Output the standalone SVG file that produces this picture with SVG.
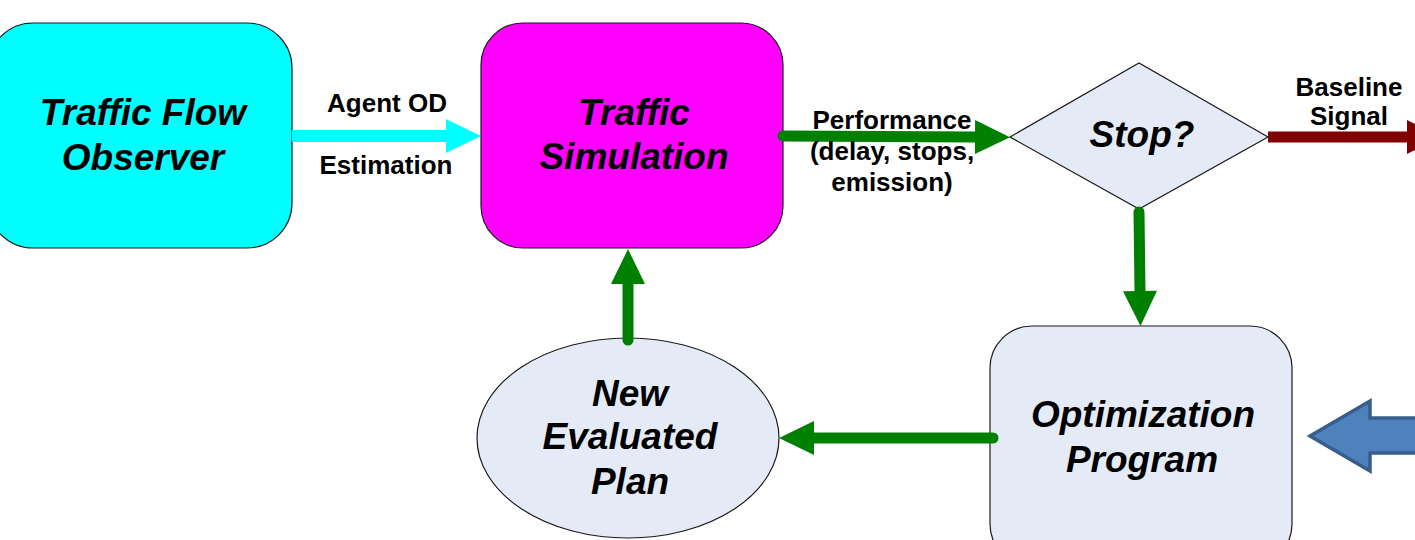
<svg xmlns="http://www.w3.org/2000/svg" width="1415" height="540" viewBox="0 0 1415 540">
<style>
.node{stroke:#1a1a1a;stroke-width:1.2}
.title{font-family:"Liberation Sans",Arial,sans-serif;font-weight:bold;font-style:italic;font-size:37px;fill:#000;text-anchor:middle}
.lbl{font-family:"Liberation Sans",Arial,sans-serif;font-weight:bold;font-size:26px;fill:#000;text-anchor:middle}
.g{stroke:#008000;stroke-width:11;fill:none;stroke-linecap:round}
</style>
<defs>
<marker id="hg" markerUnits="userSpaceOnUse" markerWidth="36" markerHeight="36" refX="0" refY="17" orient="auto" overflow="visible"><path d="M0,0 L35,17 L0,34 z" fill="#008000"/></marker>
<marker id="hc" markerUnits="userSpaceOnUse" markerWidth="36" markerHeight="36" refX="0" refY="17" orient="auto" overflow="visible"><path d="M0,0 L35,17 L0,34 z" fill="#00FFFF"/></marker>
<marker id="hr" markerUnits="userSpaceOnUse" markerWidth="36" markerHeight="36" refX="0" refY="17" orient="auto" overflow="visible"><path d="M0,0 L35,17 L0,34 z" fill="#800000"/></marker>
</defs>
<g id="observer"><rect class="node" x="-12" y="23" width="304" height="225" rx="45" fill="#00FFFF"/><text class="title" x="143" y="125">Traffic Flow</text><text class="title" x="143" y="170">Observer</text></g>
<g id="simulation"><rect class="node" x="481" y="23" width="302" height="225" rx="42" fill="#FF00FF"/><text class="title" x="634" y="125">Traffic</text><text class="title" x="634" y="169">Simulation</text></g>
<g id="stop"><polygon class="node" points="1010,137 1139,63 1268,137 1139,209" fill="#E5EBF6"/><text class="title" x="1142" y="147">Stop?</text></g>
<g id="optimization"><rect class="node" x="990" y="326" width="302" height="240" rx="42" fill="#E5EBF6"/><text class="title" x="1143" y="427">Optimization</text><text class="title" x="1142" y="472">Program</text></g>
<g id="plan"><ellipse class="node" cx="628" cy="438" rx="151" ry="100" fill="#E5EBF6"/><text class="title" x="630" y="406">New</text><text class="title" x="630" y="449">Evaluated</text><text class="title" x="630" y="494">Plan</text></g>
<g id="input"><polygon points="1310,436 1370,401 1370,418 1422,418 1422,453 1370,453 1370,471" fill="#4F81BD" stroke="#385D8A" stroke-width="3.5" stroke-linejoin="miter"/></g>
<g id="connectors">
<path d="M292,136 L446,136" stroke="#00FFFF" stroke-width="12" fill="none" marker-end="url(#hc)"/>
<path class="g" d="M783,136 L975,137" marker-end="url(#hg)"/>
<path class="g" d="M1139,212 L1140,291" marker-end="url(#hg)"/>
<path class="g" d="M993,438 L814,438" marker-end="url(#hg)"/>
<path class="g" d="M628,340 L628,284" marker-end="url(#hg)"/>
<path d="M1268,137 L1407,137" stroke="#800000" stroke-width="11" fill="none" marker-end="url(#hr)"/>
</g>
<g id="labels">
<text class="lbl" x="387" y="112">Agent OD</text>
<text class="lbl" x="386" y="174">Estimation</text>
<text class="lbl" x="892" y="129">Performance</text>
<text class="lbl" x="892" y="160">(delay, stops,</text>
<text class="lbl" x="892" y="191">emission)</text>
<text class="lbl" x="1349" y="96">Baseline</text>
<text class="lbl" x="1349" y="125">Signal</text>
</g>
</svg>
